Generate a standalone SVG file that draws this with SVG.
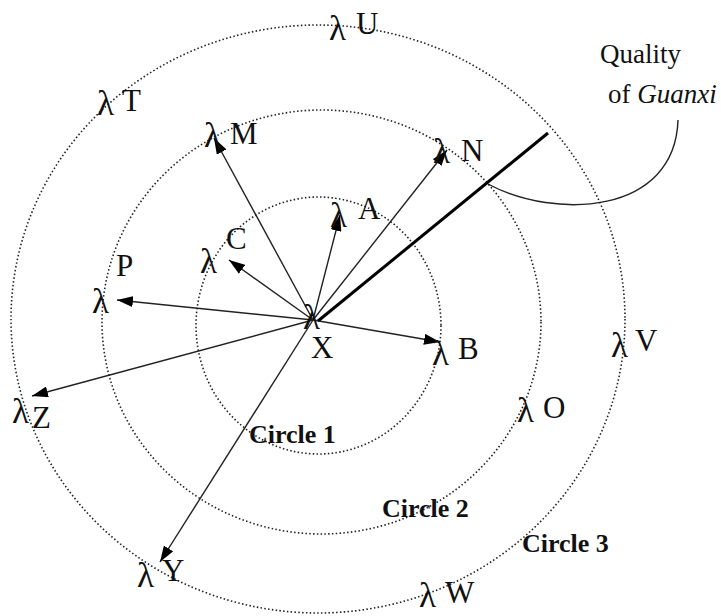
<svg xmlns="http://www.w3.org/2000/svg" width="721" height="616" viewBox="0 0 721 616">
<style>
.ring{fill:none;stroke:#222;stroke-width:1.6;stroke-dasharray:1.5 2.3}
.lbl{font-family:"Liberation Serif","Times New Roman",serif;font-size:31px;fill:#111}
.lam{font-family:"Liberation Serif","Times New Roman",serif;font-size:35px;fill:#111}
.cap{font-family:"Liberation Serif","Times New Roman",serif;font-size:26px;font-weight:bold;fill:#111}
.note{font-family:"Liberation Serif","Times New Roman",serif;font-size:27px;fill:#111}
.arr{fill:none;stroke:#222;stroke-width:1.4;marker-end:url(#ah)}
</style>
<defs>
<marker id="ah" viewBox="0 0 16 11" refX="16" refY="5.5" markerWidth="16" markerHeight="11" markerUnits="userSpaceOnUse" orient="auto">
<path d="M0,0 L16,5.5 L0,11 z" fill="#000"/>
</marker>
</defs>
<rect width="721" height="616" fill="#fff"/>
<g id="circles">
<ellipse id="circle1" class="ring" cx="318.5" cy="325.5" rx="122.5" ry="128.5"/>
<ellipse id="circle2" class="ring" cx="321.5" cy="322" rx="219.5" ry="212"/>
<ellipse id="circle3" class="ring" cx="318" cy="319" rx="307" ry="294"/>
</g>
<g id="connectors">
<line class="arr" x1="313" y1="320" x2="214" y2="138"/>
<line class="arr" x1="313" y1="320" x2="447" y2="150"/>
<line class="arr" x1="313" y1="320" x2="340" y2="215"/>
<line class="arr" x1="313" y1="320" x2="229" y2="260"/>
<line class="arr" x1="313" y1="320" x2="117" y2="300"/>
<line class="arr" x1="313" y1="320" x2="440" y2="342"/>
<line class="arr" x1="313" y1="320" x2="32" y2="396"/>
<line class="arr" x1="313" y1="320" x2="160" y2="562"/>
<line id="guanxi-line" x1="318" y1="321" x2="548" y2="133" stroke="#000" stroke-width="3"/>
<path id="guanxi-callout" d="M488,184 C555,220 675,215 678,120" fill="none" stroke="#222" stroke-width="1.4"/>
</g>
<g id="node-X"><text class="lam" x="303" y="329" font-size="26">λ</text><text class="lbl" x="311" y="358">X</text></g>
<g id="node-U"><text class="lam" x="329" y="40">λ</text><text class="lbl" x="356" y="34">U</text></g>
<g id="node-T"><text class="lam" x="97" y="115">λ</text><text class="lbl" x="122" y="111">T</text></g>
<g id="node-M"><text class="lam" x="204" y="147">λ</text><text class="lbl" x="230" y="144">M</text></g>
<g id="node-N"><text class="lam" x="433" y="163">λ</text><text class="lbl" x="461" y="161">N</text></g>
<g id="node-A"><text class="lam" x="330" y="227">λ</text><text class="lbl" x="358" y="219">A</text></g>
<g id="node-C"><text class="lam" x="200" y="273">λ</text><text class="lbl" x="226" y="249">C</text></g>
<g id="node-P"><text class="lam" x="92" y="313">λ</text><text class="lbl" x="116" y="276">P</text></g>
<g id="node-B"><text class="lam" x="432" y="365">λ</text><text class="lbl" x="458" y="359">B</text></g>
<g id="node-O"><text class="lam" x="517" y="422">λ</text><text class="lbl" x="543" y="418">O</text></g>
<g id="node-V"><text class="lam" x="611" y="357">λ</text><text class="lbl" x="635" y="351">V</text></g>
<g id="node-Z"><text class="lam" x="12" y="423">λ</text><text class="lbl" x="32" y="428">Z</text></g>
<g id="node-Y"><text class="lam" x="137" y="587">λ</text><text class="lbl" x="162" y="581">Y</text></g>
<g id="node-W"><text class="lam" x="419" y="607">λ</text><text class="lbl" x="445" y="603">W</text></g>
<g id="labels">
<text class="cap" x="249" y="443">Circle 1</text>
<text class="cap" x="382" y="517">Circle 2</text>
<text class="cap" x="522" y="552">Circle 3</text>
<text class="note" x="600" y="63">Quality</text>
<text class="note" x="608" y="103">of <tspan font-style="italic">Guanxi</tspan></text>
</g>
</svg>
